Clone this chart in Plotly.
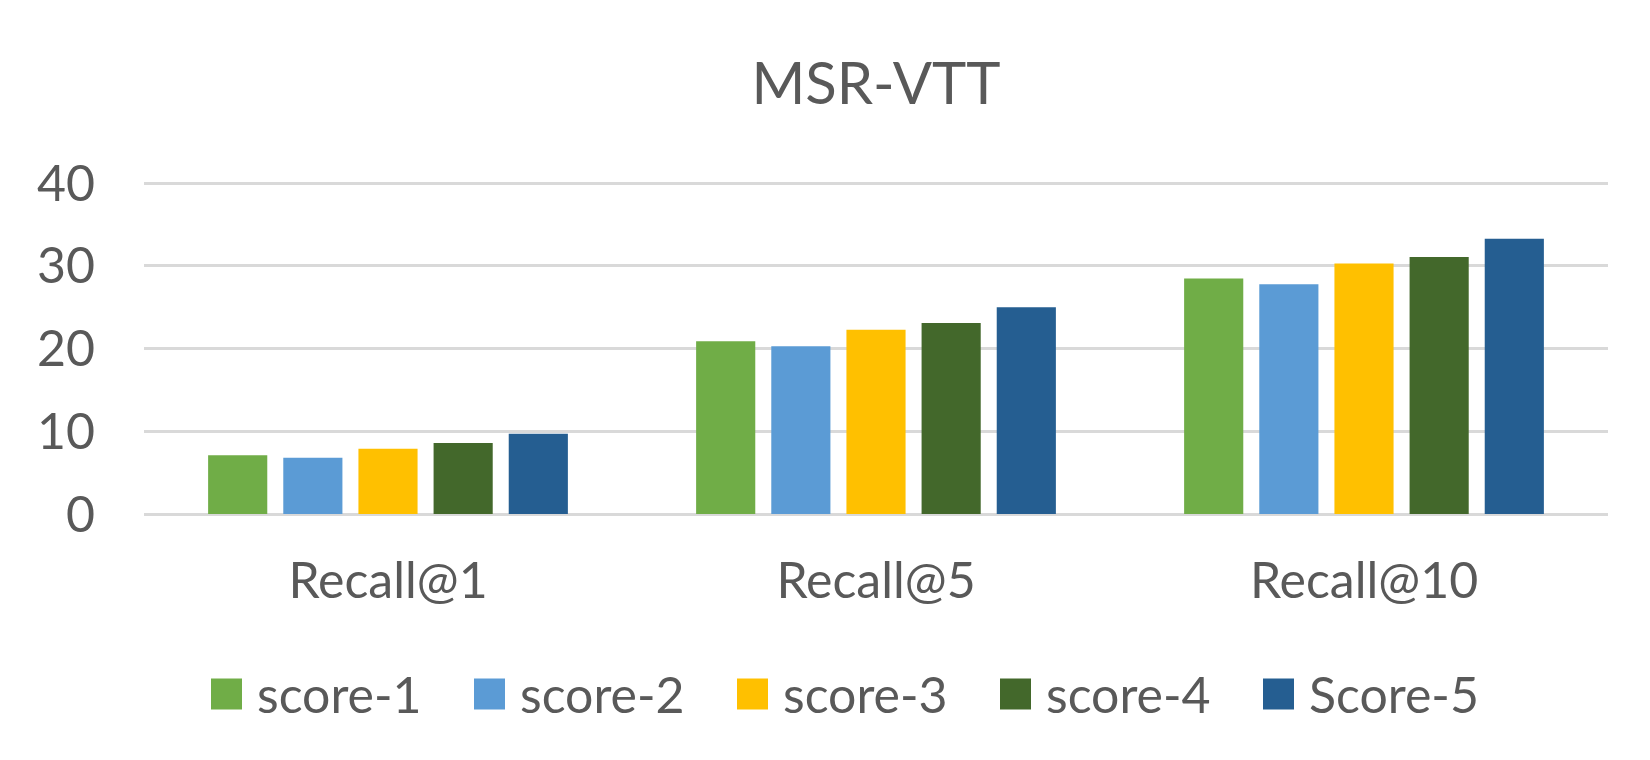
import plotly.graph_objects as go

categories = ["Recall@1", "Recall@5", "Recall@10"]
series_names = ["score-1", "score-2", "score-3", "score-4", "Score-5"]
score_1 = [7.1, 20.9, 28.5]
score_2 = [6.8, 20.3, 27.8]
score_3 = [7.9, 22.3, 30.3]
score_4 = [8.6, 23.1, 31.1]
score_5 = [9.7, 25.0, 33.3]
colors = ["#70AD47", "#5B9BD5", "#FFC000", "#43682B", "#255E91"]
y_ticks = [0, 10, 20, 30, 40]

series_values = [score_1, score_2, score_3, score_4, score_5]

W, H = 1650, 760
L, R, T, B = 136, 50, 172, 254
pw = W - L - R
ph = H - T - B

FONT = "Lato"
TXT = "#595959"

fig = go.Figure()
for name, vals, col in zip(series_names, series_values, colors):
    fig.add_trace(go.Bar(
        x=categories, y=vals, name=name,
        marker=dict(color=col, line=dict(width=0)),
        showlegend=False, hoverinfo="x+y+name",
    ))

# custom legend (large square keys like the original)
def px_x(p):
    return (p - L) / pw

def px_y(p):
    return (H - B - p) / ph

key_left0 = 203
key_step = 263
key_size = 31
key_cy = 686
for i, (name, col) in enumerate(zip(series_names, colors)):
    x0 = key_left0 + i * key_step
    fig.add_shape(type="rect", xref="paper", yref="paper",
                  x0=px_x(x0), x1=px_x(x0 + key_size),
                  y0=px_y(key_cy + key_size / 2), y1=px_y(key_cy - key_size / 2),
                  fillcolor=col, line=dict(width=0))
    fig.add_annotation(xref="paper", yref="paper",
                       x=px_x(x0 + key_size + 13), y=px_y(key_cy),
                       xanchor="left", yanchor="middle", showarrow=False,
                       text=name, font=dict(family=FONT, size=50, color=TXT))

fig.update_layout(
    width=W, height=H,
    margin=dict(l=L, r=R, t=T, b=B, autoexpand=False),
    paper_bgcolor="white", plot_bgcolor="white",
    barmode="group", bargap=0.23, bargroupgap=0.213,
    font=dict(family=FONT, color=TXT, size=50),
    title=dict(text="MSR-VTT", x=0.5, xanchor="center", xref="paper",
               y=1 - 76 / H, yref="container", yanchor="middle",
               font=dict(family=FONT, size=58, color=TXT)),
    showlegend=False,
)
fig.update_xaxes(showgrid=False, showline=False, zeroline=False, ticks="",
                 tickfont=dict(family=FONT, size=50, color=TXT),
                 ticklabelstandoff=33)
fig.update_yaxes(range=[0, 40.4], tickvals=y_ticks, showgrid=True,
                 gridcolor="#D9D9D9", gridwidth=3, zeroline=True,
                 zerolinecolor="#D9D9D9", zerolinewidth=3, showline=False,
                 ticks="", tickfont=dict(family=FONT, size=50, color=TXT),
                 ticklabelstandoff=48)

fig.write_html("out.html")
